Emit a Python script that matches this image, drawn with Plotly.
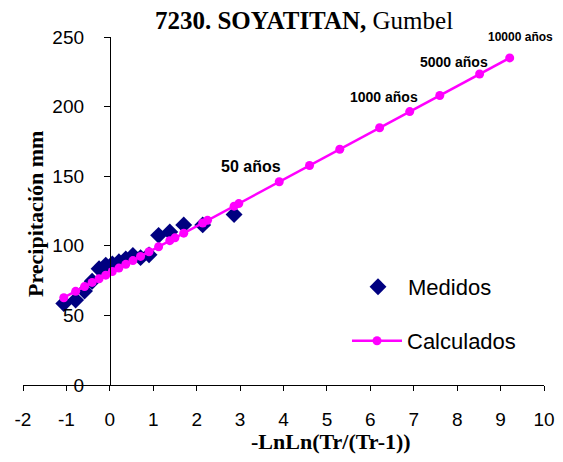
import plotly.graph_objects as go

# Measured data (Weibull plotting positions)
x_medidos = [-1.061, -0.787, -0.583, -0.408, -0.248, -0.094, 0.057, 0.209, 0.367,
             0.531, 0.708, 0.903, 1.123, 1.381, 1.702, 2.139, 2.862]
y_medidos = [58.5, 61.0, 67.5, 74.5, 83.5, 86.0, 87.0, 88.5, 90.5,
             93.0, 91.5, 93.5, 107.5, 110.0, 115.0, 115.0, 122.5]

# Calculated (Gumbel fit)
x_calculados = [-1.061, -0.787, -0.583, -0.408, -0.248, -0.094, 0.057, 0.209, 0.367,
                0.531, 0.708, 0.903, 1.123, 1.381, 1.500, 1.702, 2.139, 2.250,
                2.862, 2.970, 3.902, 4.600, 5.296, 6.214, 6.907, 7.600, 8.517, 9.210]
y_calculados = [62.7, 67.3, 70.7, 73.7, 76.3, 78.9, 81.5, 84.0, 86.7,
                89.4, 92.4, 95.7, 99.3, 103.7, 105.7, 109.1, 116.4, 118.3,
                128.5, 130.3, 146.0, 157.7, 169.4, 184.8, 196.4, 208.0, 223.4, 235.0]

# Return-period labels
label_texts = ["50 años", "1000 años", "5000 años", "10000 años"]
label_x = [3.902, 6.907, 8.517, 9.210]
label_y = [146.0, 196.4, 223.4, 235.0]

x_ticks = list(range(-2, 11))
y_ticks = [0, 50, 100, 150, 200, 250]

# page body has an 8px margin; compensate so the plot lands where the reference has it
OFF = 8
W, H = 563 - 2 * OFF, 462 - 2 * OFF
L, T = 23 - OFF, 37 - OFF
R = (OFF + W) - 544
B = (OFF + H) - 385
PW, PH = W - L - R, H - T - B


def px_x(p):  # page pixel -> paper fraction
    return (p - OFF - L) / PW


def px_y(p):
    return (OFF + H - B - p) / PH


fig = go.Figure()
fig.add_trace(go.Scatter(
    x=x_medidos, y=y_medidos, mode="markers", name="Medidos",
    marker=dict(symbol="diamond", size=13, color="#000080"),
    legend="legend"))
fig.add_trace(go.Scatter(
    x=x_calculados, y=y_calculados, mode="lines+markers", name="Calculados",
    line=dict(color="#FF00FF", width=2.5),
    marker=dict(symbol="circle", size=9, color="#FF00FF"),
    legend="legend2"))

label_shifts = [(-28, 15), (-26, 15), (-26, 12), (11, 21)]
label_sizes = [16, 14, 14, 12]
for t, lx, ly, (dx, dy), fs in zip(label_texts, label_x, label_y, label_shifts, label_sizes):
    fig.add_annotation(x=lx, y=ly, xref="x", yref="y", text="<b>" + t + "</b>",
                       showarrow=False, xshift=dx, yshift=dy,
                       font=dict(family="Liberation Sans, Arial", size=fs, color="black"))

# X axis title
fig.add_annotation(x=px_x(331), y=px_y(441), xref="paper", yref="paper",
                   text="<b>-LnLn(Tr/(Tr-1))</b>", showarrow=False,
                   xanchor="center", yanchor="middle",
                   font=dict(family="Liberation Serif, Times New Roman", size=22, color="black"))
# Y axis title
fig.add_annotation(x=px_x(35), y=px_y(214), xref="paper", yref="paper",
                   text="<b>Precipitación mm</b>", showarrow=False, textangle=-90,
                   xanchor="center", yanchor="middle",
                   font=dict(family="Liberation Serif, Times New Roman", size=22, color="black"))

fig.update_layout(
    width=W, height=H,
    margin=dict(l=L, r=R, t=T, b=B, autoexpand=False),
    paper_bgcolor="white", plot_bgcolor="white",
    title=dict(text="<b>7230. SOYATITAN,</b> Gumbel", x=(304 - OFF) / W, xanchor="center",
               y=1 - (20 - OFF) / H, yanchor="middle", xref="container", yref="container",
               font=dict(family="Liberation Serif, Times New Roman", size=25, color="black")),
    font=dict(family="Liberation Sans, Arial", color="black"),
    xaxis=dict(range=[-2, 10], tickvals=x_ticks, ticktext=[str(v) for v in x_ticks],
               showgrid=False, zeroline=False, showline=True, linecolor="black", linewidth=1,
               ticks="outside", ticklen=5, tickcolor="black", ticklabelstandoff=12,
               automargin=False, tickfont=dict(size=19, color="black")),
    yaxis=dict(range=[0, 250], tickvals=y_ticks, ticktext=[str(v) for v in y_ticks],
               showgrid=False, zeroline=False, showline=True, linecolor="black", linewidth=1,
               ticks="outside", ticklen=6, tickcolor="black", ticklabelstandoff=16,
               anchor="free", position=2 / 12, automargin=False,
               tickfont=dict(size=19, color="black")),
    legend=dict(x=px_x(348), y=px_y(287), xanchor="left", yanchor="middle",
                bgcolor="rgba(0,0,0,0)", font=dict(size=22, color="black"), itemwidth=50),
    legend2=dict(x=px_x(347), y=px_y(341), xanchor="left", yanchor="middle",
                 bgcolor="rgba(0,0,0,0)", font=dict(size=22, color="black"), itemwidth=50),
    showlegend=True,
)

fig.write_html("out.html")
